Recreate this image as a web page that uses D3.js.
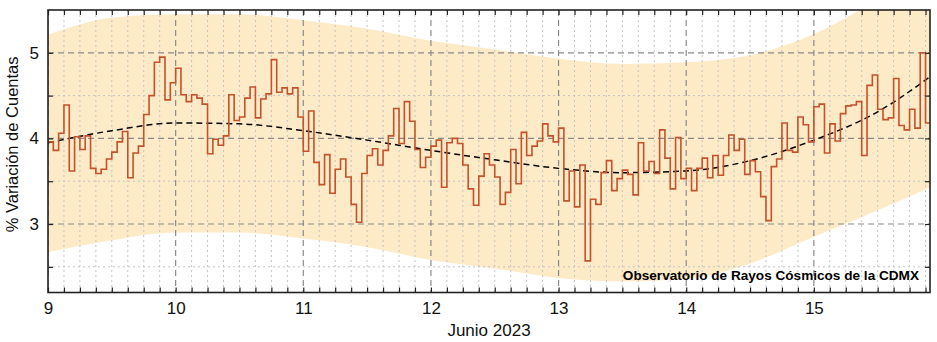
<!DOCTYPE html>
<html>
<head>
<meta charset="utf-8">
<script src="https://cdn.jsdelivr.net/npm/d3@7"></script>
<style>
  html, body { margin: 0; padding: 0; background: #fff; }
  svg { display: block; font-family: "Liberation Sans", Arial, sans-serif; }
</style>
</head>
<body>
<svg id="chart" width="937" height="342"></svg>
<script>
// Hourly % count variation, starting 9 June 2023 00:00
const startDay = 9;
const hourlyValues = [
  3.96,3.86,4.06,4.39,3.62,4.02,3.87,4.03,3.65,3.59,3.64,3.76,3.84,3.96,4.08,3.54,3.83,3.91,4.28,4.50,4.89,4.95,4.45,4.65,
  4.82,4.51,4.43,4.51,4.47,4.40,3.82,3.99,3.92,4.03,4.51,4.21,4.25,4.47,4.60,4.24,4.46,4.52,4.92,4.54,4.59,4.52,4.59,4.25,
  3.85,4.32,3.72,3.46,3.81,3.36,3.64,3.76,3.55,3.23,3.02,3.59,3.80,3.88,3.69,3.86,4.03,4.35,3.94,4.43,4.20,3.87,3.66,3.78,
  3.91,3.98,3.43,3.95,4.00,3.94,3.69,3.41,3.22,3.56,3.82,3.69,3.55,3.23,3.37,3.87,3.47,4.07,3.80,3.91,3.97,4.17,4.03,3.96,
  4.12,3.27,3.62,3.20,3.69,2.57,3.29,3.23,3.60,3.74,3.39,3.53,3.63,3.58,3.34,3.95,3.62,3.73,3.59,4.10,3.77,3.41,4.01,3.53,
  3.65,3.39,3.65,3.77,3.54,3.80,3.57,3.80,4.04,3.86,3.99,3.58,3.74,3.61,3.32,3.04,3.67,3.76,4.18,3.86,3.84,4.25,4.16,3.96,
  4.37,4.40,3.83,4.17,3.97,4.29,4.38,4.39,4.43,3.80,4.62,4.74,4.34,4.22,4.24,4.70,4.15,4.10,4.34,4.12,5.00,4.18
];

// Smooth trend and its confidence band, sampled every half day
const trendDays  = [9.0, 9.5, 10.0, 10.5, 11.0, 11.5, 12.0, 12.5, 13.0, 13.5, 14.0, 14.5, 15.0, 15.5, 15.91];
const trendValue = [3.95, 4.09, 4.18, 4.17, 4.09, 3.98, 3.86, 3.75, 3.65, 3.60, 3.62, 3.74, 3.98, 4.31, 4.72];
const bandUpper  = [5.21, 5.41, 5.45, 5.45, 5.38, 5.28, 5.14, 5.04, 4.93, 4.87, 4.89, 4.97, 5.22, 5.62, 6.00];
const bandLower  = [2.67, 2.81, 2.90, 2.90, 2.83, 2.73, 2.58, 2.48, 2.37, 2.33, 2.36, 2.54, 2.85, 3.16, 3.43];

// Axis ticks
const xDomain = [9, 15.91];
const yDomain = [2.2, 5.5];
const dayTicks = [9, 10, 11, 12, 13, 14, 15];
const yMajorTicks = [3, 4, 5];
const yMinorTicks = [2.5, 3.5, 4.5];
const subdivisionsPerDay = 8;

const xTitle = "Junio 2023";
const yTitle = "% Variación de Cuentas";
const credit = "Observatorio de Rayos Cósmicos de la CDMX";

const W = 937, H = 342;
const m = { left: 48, right: 7, top: 10, bottom: 49.5 };
const iw = W - m.left - m.right, ih = H - m.top - m.bottom;

const svg = d3.select("#chart");
const g = svg.append("g").attr("transform", `translate(${m.left},${m.top})`);

const x = d3.scaleLinear().domain(xDomain).range([0, iw]);
const y = d3.scaleLinear().domain(yDomain).range([ih, 0]);

svg.append("defs").append("clipPath").attr("id", "plotClip")
  .append("rect").attr("width", iw).attr("height", ih);

const plot = g.append("g").attr("clip-path", "url(#plotClip)");

// Confidence band
const band = trendDays.map((d, i) => ({ d, hi: bandUpper[i], lo: bandLower[i] }));
plot.append("path")
  .datum(band)
  .attr("fill", "#fdeac6")
  .attr("d", d3.area().curve(d3.curveMonotoneX)
    .x(p => x(p.d)).y0(p => y(p.lo)).y1(p => y(p.hi)));

// Grid: minor dotted every 3 hours / 0.5 %, major dashed every day / 1 %
const minorX = d3.range(0, (xDomain[1] - xDomain[0]) * subdivisionsPerDay + 1)
  .map(k => xDomain[0] + k / subdivisionsPerDay)
  .filter(v => v <= xDomain[1] + 1e-9);
const minorXOnly = minorX.filter(v => Math.abs(v - Math.round(v)) > 1e-6);

const grid = plot.append("g");
grid.selectAll(".vmin").data(minorXOnly).join("line")
  .attr("x1", d => x(d)).attr("x2", d => x(d)).attr("y1", 0).attr("y2", ih)
  .attr("stroke", "#c4c4c4").attr("stroke-width", 1).attr("stroke-dasharray", "2,3");
grid.selectAll(".hmin").data(yMinorTicks).join("line")
  .attr("x1", 0).attr("x2", iw).attr("y1", d => y(d)).attr("y2", d => y(d))
  .attr("stroke", "#c4c4c4").attr("stroke-width", 1).attr("stroke-dasharray", "2,3");
grid.selectAll(".vmaj").data(dayTicks).join("line")
  .attr("x1", d => x(d)).attr("x2", d => x(d)).attr("y1", 0).attr("y2", ih)
  .attr("stroke", "#8a8a8a").attr("stroke-width", 1.2).attr("stroke-dasharray", "6,4");
grid.selectAll(".hmaj").data(yMajorTicks).join("line")
  .attr("x1", 0).attr("x2", iw).attr("y1", d => y(d)).attr("y2", d => y(d))
  .attr("stroke", "#8a8a8a").attr("stroke-width", 1.2).attr("stroke-dasharray", "6,4");

// Trend curve
const trend = trendDays.map((d, i) => ({ d, v: trendValue[i] }));
plot.append("path")
  .datum(trend)
  .attr("fill", "none")
  .attr("stroke", "#000")
  .attr("stroke-width", 1.5)
  .attr("stroke-dasharray", "6,4")
  .attr("d", d3.line().curve(d3.curveMonotoneX).x(p => x(p.d)).y(p => y(p.v)));

// Hourly step series
const series = hourlyValues.map((v, i) => ({ t: startDay + i / 24, v }));
series.push({ t: startDay + hourlyValues.length / 24, v: hourlyValues[hourlyValues.length - 1] });
plot.append("path")
  .datum(series)
  .attr("fill", "none")
  .attr("stroke", "#c4522b")
  .attr("stroke-width", 1.6)
  .attr("d", d3.line().curve(d3.curveStepAfter).x(p => x(p.t)).y(p => y(p.v)));

// Axes with inward ticks on all four sides
const yAllTicks = [...yMinorTicks, ...yMajorTicks].sort((a, b) => a - b);
const styleAxis = sel => {
  sel.select(".domain").remove();
  sel.selectAll(".tick line").attr("stroke", "#222").attr("stroke-width", 1.2);
};

g.append("g").attr("transform", `translate(0,${ih})`)
  .call(d3.axisBottom(x).tickValues(minorX).tickSizeInner(-5).tickSizeOuter(0).tickFormat(""))
  .call(styleAxis);
g.append("g")
  .call(d3.axisTop(x).tickValues(minorX).tickSizeInner(-5).tickSizeOuter(0).tickFormat(""))
  .call(styleAxis);
g.append("g")
  .call(d3.axisLeft(y).tickValues(yAllTicks).tickSizeInner(-5).tickSizeOuter(0).tickFormat(""))
  .call(styleAxis);
g.append("g").attr("transform", `translate(${iw},0)`)
  .call(d3.axisRight(y).tickValues(yAllTicks).tickSizeInner(-5).tickSizeOuter(0).tickFormat(""))
  .call(styleAxis);

// Tick labels
const labelFont = sel => sel.selectAll("text").attr("font-size", 17).attr("fill", "#111")
  .attr("font-family", "'Liberation Sans', Arial, sans-serif");
g.append("g").attr("transform", `translate(0,${ih})`)
  .call(d3.axisBottom(x).tickValues(dayTicks).tickSize(0).tickPadding(9).tickFormat(d3.format("d")))
  .call(sel => { sel.select(".domain").remove(); labelFont(sel); });
g.append("g")
  .call(d3.axisLeft(y).tickValues(yMajorTicks).tickSize(0).tickPadding(9).tickFormat(d3.format("d")))
  .call(sel => { sel.select(".domain").remove(); labelFont(sel); });

// Frame
g.append("rect").attr("width", iw).attr("height", ih)
  .attr("fill", "none").attr("stroke", "#222").attr("stroke-width", 1.6);

// Titles
svg.append("text")
  .attr("x", m.left + iw / 2).attr("y", 336)
  .attr("text-anchor", "middle").attr("font-size", 17).attr("fill", "#111")
  .text(xTitle);
svg.append("text")
  .attr("transform", `translate(18,${m.top + y(3.93)}) rotate(-90)`)
  .attr("text-anchor", "middle").attr("font-size", 16.5).attr("fill", "#111")
  .text(yTitle);

// Credit line
g.append("text")
  .attr("x", iw - 11).attr("y", ih - 12.5)
  .attr("text-anchor", "end").attr("font-size", 13.6).attr("font-weight", "bold").attr("fill", "#000")
  .text(credit);
</script>
</body>
</html>
